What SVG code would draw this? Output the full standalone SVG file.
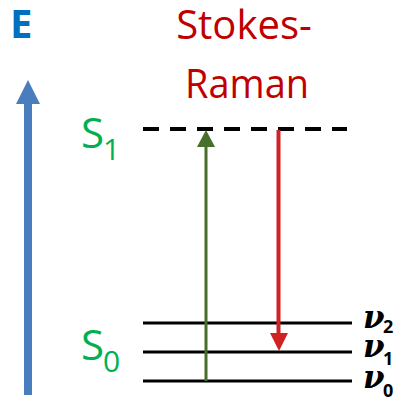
<svg xmlns="http://www.w3.org/2000/svg" width="395" height="401" viewBox="0 0 395 401">
  <style>
    .sans { font-family: "Open Sans", "Liberation Sans", sans-serif; }
    .green { fill: #00B050; }
    .red { fill: #C00000; }
    .level { stroke: #000; stroke-width: 3; fill: none; }
    .nu { font-family: "DejaVu Serif", "Liberation Serif", serif; font-weight: bold; font-style: italic; font-size: 31px; fill: #000; }
    .sub { font-family: "Open Sans", "Liberation Sans", sans-serif; font-weight: bold; font-size: 18px; fill: #000; }
  </style>
  <rect width="395" height="401" fill="#fff"/>

  <g id="energy-axis">
    <rect x="24" y="103" width="8" height="292" fill="#4A7DBE"/>
    <polygon points="16,104 40,104 28,80" fill="#4A7DBE"/>
    <text x="10" y="38" class="sans" font-size="40" font-weight="bold" fill="#0070C0">E</text>
  </g>

  <g id="title">
    <text x="244" y="39" class="sans red" font-size="40" text-anchor="middle">Stokes-</text>
    <text x="247" y="98" class="sans red" font-size="40" text-anchor="middle" textLength="124" lengthAdjust="spacingAndGlyphs">Raman</text>
  </g>

  <g id="S1">
    <line x1="143" y1="129" x2="347" y2="129" stroke="#000" stroke-width="4" stroke-dasharray="16 11"/>
    <text x="81" y="148" class="sans green" font-size="42">S</text>
    <text x="103" y="160" class="sans green" font-size="30">1</text>
  </g>

  <g id="S0">
    <line x1="143" y1="323" x2="352" y2="323" class="level"/>
    <line x1="143" y1="352" x2="352" y2="352" class="level"/>
    <line x1="143" y1="381" x2="352" y2="381" class="level"/>
    <text x="81" y="360" class="sans green" font-size="42">S</text>
    <text x="103" y="372" class="sans green" font-size="30">0</text>
  </g>

  <g id="nu-labels">
    <text x="363" y="328" class="nu">ν</text><text x="383" y="333" class="sub">2</text>
    <text x="363" y="357" class="nu">ν</text><text x="383" y="365" class="sub">1</text>
    <text x="363" y="388" class="nu">ν</text><text x="383" y="397" class="sub">0</text>
  </g>

  <g id="connectors">
    <line x1="206" y1="381" x2="206" y2="146" stroke="#476E2A" stroke-width="3"/>
    <polygon points="197,147 215,147 206,130" fill="#476E2A"/>
    <line x1="278.5" y1="130" x2="278.5" y2="334" stroke="#D02222" stroke-width="4"/>
    <polygon points="270,333 288,333 279,351" fill="#D02222"/>
  </g>
</svg>
